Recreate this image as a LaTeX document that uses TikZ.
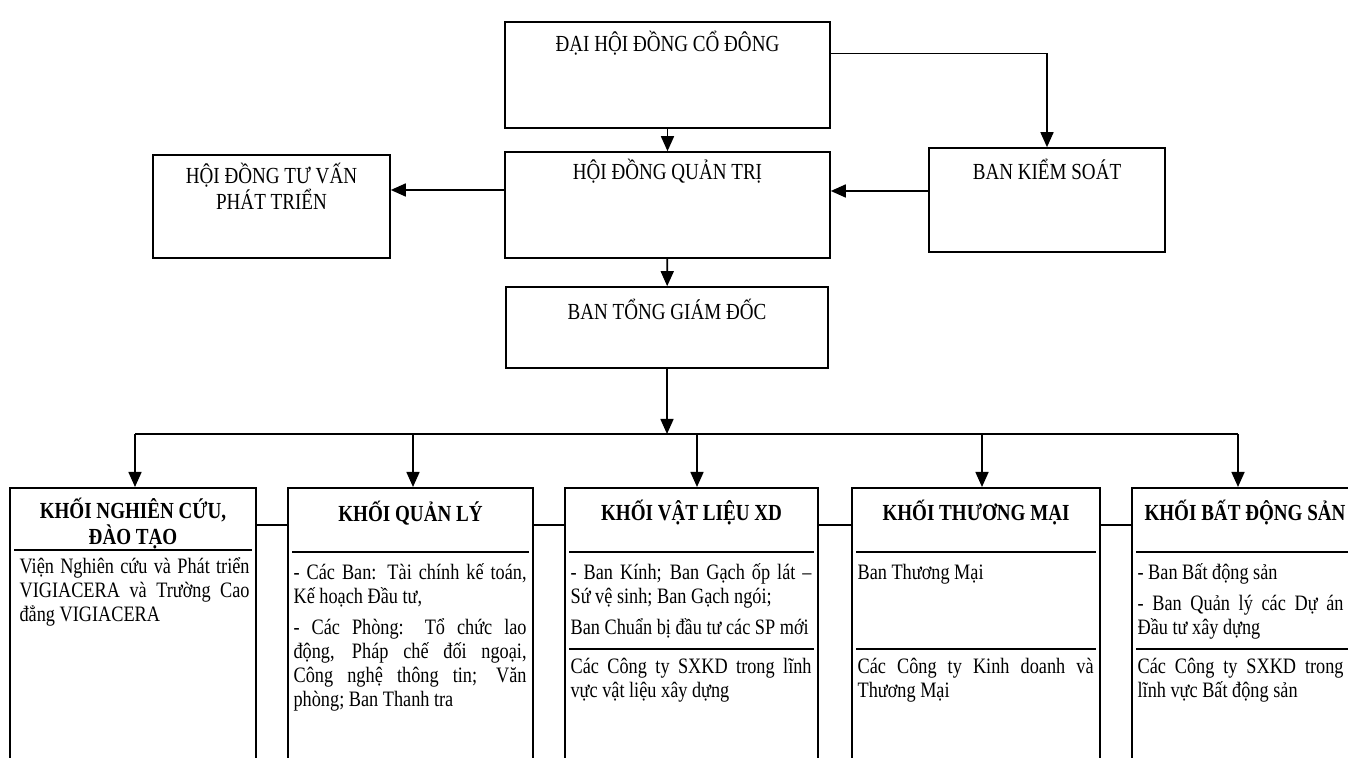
\documentclass[tikz,border=0pt]{standalone}
\usepackage{fontspec}
\setmainfont{Liberation Serif}[FakeStretch=0.83]
\usetikzlibrary{arrows.meta,positioning,calc}

\newcommand\bodyfont{\fontsize{11}{12}\selectfont\hyphenpenalty=10000\tolerance=10000\hbadness=10000}
\newcommand\capfont{\fontsize{11.5}{13}\selectfont}

\begin{document}
\begin{tikzpicture}[x=1pt, y=1pt, >={Triangle[length=7.5pt,width=6.5pt]},
    unit/.style={draw, line width=0.8pt, inner sep=0pt},
    lbl/.style={font=\capfont, align=center, inner sep=0pt},
    head/.style={font=\capfont\bfseries, align=center, inner sep=0pt},
    body/.style={font=\bodyfont, text width=#1, align=justify, inner sep=0pt,
        anchor=north west, execute at begin node=\strut},
    link/.style={line width=0.8pt},
    arr/.style={link, ->},
    rule/.style={line width=0.6pt}]

    \useasboundingbox (0,0) rectangle (674,379);
    \clip (0,0) rectangle (674,379);

    % Upper management
    \node[unit, minimum width=162.5pt, minimum height=53pt] (dh) at (333.75,341.5) {};
    \node[lbl] (dht) at ([yshift=-11pt]dh.north) {ĐẠI HỘI ĐỒNG CỔ ĐÔNG};

    \node[unit, minimum width=162.5pt, minimum height=53pt] (hq) at (333.75,276.5) {};
    \node[lbl] (hqt) at ([yshift=-10pt]hq.north) {HỘI ĐỒNG QUẢN TRỊ};

    \node[unit, minimum width=118.5pt, minimum height=51.5pt] (hv) at (135.75,275.75) {};
    \node[lbl] (hvt) at ([yshift=-16pt]hv.north) {HỘI ĐỒNG TƯ VẤN\\PHÁT TRIỂN};

    \node[unit, minimum width=118pt, minimum height=52pt] (bks) at (523.5,279) {};
    \node[lbl] (bkst) at ([yshift=-11pt]bks.north) {BAN KIỂM SOÁT};

    \node[unit, minimum width=161pt, minimum height=40.5pt] (tg) at (333.5,215.25) {};
    \node[lbl] (tgt) at ([yshift=-11.5pt]tg.north) {BAN TỔNG GIÁM ĐỐC};

    % Arrows between the upper boxes
    \draw[arr] (dh) -- (hq);
    \draw[arr] ($(dh.north east)!0.3!(dh.south east)$) -| (bks);
    \draw[arr] ([yshift=4.5pt]bks.west) -- ([yshift=4.5pt]bks.west -| hq.east);
    \draw[arr] ([yshift=7.5pt]hq.west) -- ([yshift=7.5pt]hq.west -| hv.east);
    \draw[arr] (hq) -- (tg);

    % Divisions
    \node[unit, anchor=north, minimum width=123pt, minimum height=160pt] (k1) at (66.5,135.5) {};
    \node[unit, anchor=north, minimum width=122.5pt, minimum height=160pt] (k2) at (205.25,135.5) {};
    \node[unit, anchor=north, minimum width=126.5pt, minimum height=160pt] (k3) at (345.75,135.5) {};
    \node[unit, anchor=north, minimum width=124pt, minimum height=160pt] (k4) at (488,135.5) {};
    \node[unit, anchor=north, minimum width=113pt, minimum height=160pt] (k5) at (622.5,135.5) {};

    % Bus from the general director
    \coordinate (busL) at (67.5,162);
    \coordinate (busR) at (619,162);
    \draw[arr] (tg) -- (tg.south |- busL);
    \draw[link] (busL) -- (busR);
    \coordinate (d1) at (67.5,162);
    \coordinate (d2) at (206.5,162);
    \coordinate (d3) at (348.5,162);
    \coordinate (d4) at (491,162);
    \coordinate (d5) at (619,162);
    \foreach \i in {1,...,5}
        \draw[arr] (d\i) -- (d\i |- k\i.north);

    % Links between neighbouring divisions
    \foreach \a/\b in {k1/k2, k2/k3, k3/k4, k4/k5}
        \draw[link] ([yshift=-19pt]\a.north east) -- ([yshift=-19pt]\b.north west);

    % Headers
    \node[head] (h1) at ([yshift=-18.25pt]k1.north) {KHỐI NGHIÊN CỨU,\\ĐÀO TẠO};
    \node[head] (h2) at ([yshift=-13pt]k2.north) {KHỐI QUẢN LÝ};
    \node[head] (h3) at ([yshift=-13pt]k3.north) {KHỐI VẬT LIỆU XD};
    \node[head] (h4) at ([yshift=-13pt]k4.north) {KHỐI THƯƠNG MẠI};
    \node[head] (h5) at ([yshift=-13pt]k5.north) {KHỐI BẤT ĐỘNG SẢN};

    % Rules inside the divisions
    \draw[rule] ($(k1.north west)+(2.5,-31.5)$) -- ($(k1.north east)+(-2.5,-31.5)$);
    \foreach \k in {k2,k3,k4,k5}
        \draw[rule] ($(\k.north west)+(2.5,-32.5)$) -- ($(\k.north east)+(-2.5,-32.5)$);
    \foreach \k in {k3,k4,k5}
        \draw[rule] ($(\k.north west)+(2.5,-81)$) -- ($(\k.north east)+(-2.5,-81)$);

    % Texts of the divisions
    \node[body=115pt] (t1) at ($(k1.north west)+(5,-34.5)$)
        {Viện Nghiên cứu và Phát triển\linebreak VIGIACERA và Trường Cao\linebreak đẳng VIGIACERA};
    \node[body=116.5pt] (t2) at ($(k2.north west)+(3,-37.5)$)
        {- Các Ban: Tài chính kế toán,\linebreak Kế hoạch Đầu tư,\par\vspace{3.5pt}
         - Các Phòng: Tổ chức lao\linebreak động, Pháp chế đối ngoại,\linebreak
         Công nghệ thông tin; Văn\linebreak phòng; Ban Thanh tra};
    \node[body=120.5pt] (t3) at ($(k3.north west)+(3,-37.5)$)
        {- Ban Kính; Ban Gạch ốp lát –\linebreak Sứ vệ sinh; Ban Gạch ngói;\par\vspace{3.5pt}
         Ban Chuẩn bị đầu tư các SP mới};
    \node[body=120.5pt] (u3) at ($(k3.north west)+(3,-84.6)$)
        {Các Công ty SXKD trong lĩnh\linebreak vực vật liệu xây dựng};
    \node[body=118pt] (t4) at ($(k4.north west)+(3,-37.5)$) {Ban Thương Mại};
    \node[body=118pt] (u4) at ($(k4.north west)+(3,-84.6)$)
        {Các Công ty Kinh doanh và\linebreak Thương Mại};
    \node[body=103pt] (t5) at ($(k5.north west)+(3,-37.5)$)
        {- Ban Bất động sản\par\vspace{3.5pt}
         - Ban Quản lý các Dự án\linebreak Đầu tư xây dựng};
    \node[body=103pt] (u5) at ($(k5.north west)+(3,-84.6)$)
        {Các Công ty SXKD trong\linebreak lĩnh vực Bất động sản};
\end{tikzpicture}
\end{document}
